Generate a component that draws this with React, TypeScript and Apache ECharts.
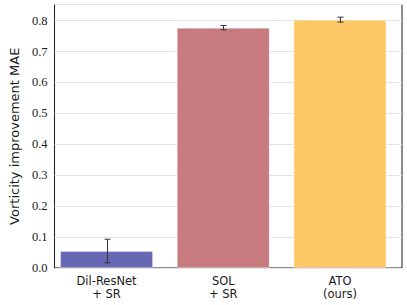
import React, { useEffect, useRef } from "react";
import * as echarts from "echarts";

const categories = ["Dil-ResNet\n+ SR", "SOL\n+ SR", "ATO\n(ours)"];
const values = [0.055, 0.777, 0.803];
const errors = [0.038, 0.007, 0.008];
const colors = ["#6767b3", "#c87b7e", "#fec866"];
const yTicks = [0, 0.1, 0.2, 0.3, 0.4, 0.5, 0.6, 0.7, 0.8];

export default function App() {
  const ref = useRef<HTMLDivElement>(null);
  useEffect(() => {
    const chart = echarts.init(ref.current!, null, { renderer: "svg" });
    const top = 4.5;
    const bottom = 305 - 268;
    chart.setOption({
      animation: false,
      textStyle: { fontFamily: "DejaVu Sans" },
      grid: [
        { left: 43, right: 5, top, bottom, show: true, borderColor: "#1a1a1a", borderWidth: 1, backgroundColor: "transparent", containLabel: false },
        { left: 48.2, right: 407 - 398.3, top, bottom, containLabel: false },
      ],
      xAxis: [
        { gridIndex: 0, type: "value", min: 0, max: 1, show: false },
        {
          gridIndex: 1,
          type: "category",
          data: categories,
          axisLine: { show: false },
          axisTick: { show: false },
          axisLabel: { color: "#1a1a1a", fontFamily: "DejaVu Sans", fontSize: 11.5, lineHeight: 13, margin: 6 },
        },
      ],
      yAxis: [
        {
          gridIndex: 0,
          type: "value",
          min: 0,
          max: 0.852,
          interval: 0.1,
          name: "Vorticity improvement MAE",
          nameLocation: "middle",
          nameGap: 32,
          nameTextStyle: { fontFamily: "DejaVu Sans", fontSize: 13, color: "#1a1a1a" },
          axisLine: { show: false },
          axisTick: { show: false },
          splitLine: { lineStyle: { color: "#e3e3e3", width: 1 } },
          axisLabel: {
            show: true,
            color: "#1a1a1a",
            fontFamily: "Liberation Serif",
            fontSize: 12.5,
            margin: 7,
            formatter: (v: number) => (yTicks.some((t) => Math.abs(t - v) < 1e-6) ? v.toFixed(1) : ""),
          },
        },
        { gridIndex: 1, type: "value", min: 0, max: 0.852, show: false, axisLabel: { show: false }, splitLine: { show: false } },
      ],
      series: [
        {
          type: "bar",
          xAxisIndex: 1,
          yAxisIndex: 1,
          barWidth: 93,
          data: values.map((v, i) => ({
            value: v,
            itemStyle: { color: colors[i], borderColor: "rgba(255,255,255,0.35)", borderWidth: 1 },
          })),
        },
        {
          type: "custom",
          xAxisIndex: 1,
          yAxisIndex: 1,
          z: 10,
          data: values.map((v, i) => [i, v - errors[i], v + errors[i]]),
          renderItem: (params: any, api: any) => {
            const lo = api.coord([api.value(0), api.value(1)]);
            const hi = api.coord([api.value(0), api.value(2)]);
            const x = Math.round(lo[0]) + 0.5;
            const c = 3;
            const style = { stroke: "#333", lineWidth: 1 };
            return {
              type: "group",
              children: [
                { type: "line", shape: { x1: x, y1: lo[1], x2: x, y2: hi[1] }, style },
                { type: "line", shape: { x1: x - c, y1: lo[1], x2: x + c, y2: lo[1] }, style },
                { type: "line", shape: { x1: x - c, y1: hi[1], x2: x + c, y2: hi[1] }, style },
              ],
            };
          },
        },
      ],
    });
    return () => chart.dispose();
  }, []);
  return <div ref={ref} style={{ width: 407, height: 305, position: "absolute", left: 0, top: 0 }} />;
}
